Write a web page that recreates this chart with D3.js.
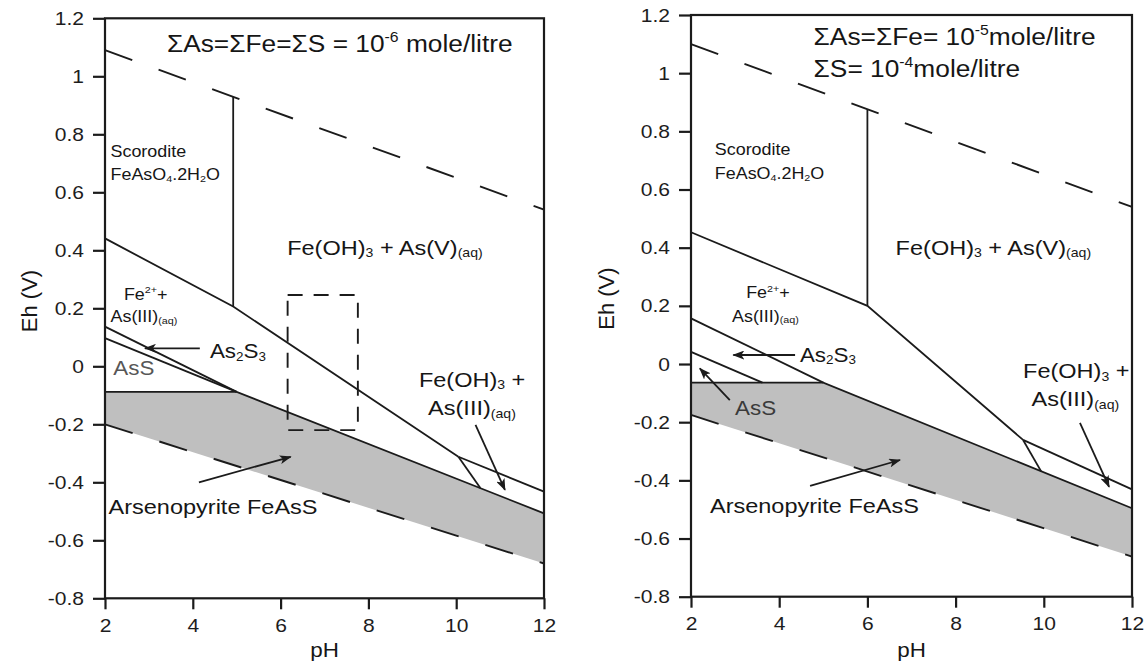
<!DOCTYPE html>
<html>
<head>
<meta charset="utf-8">
<script src="https://cdn.jsdelivr.net/npm/d3@7"></script>
<style>
  html, body { margin: 0; padding: 0; background: #fff; }
  svg text { font-family: "Liberation Sans", Arial, Helvetica, sans-serif; fill: #161616; white-space: pre; }
</style>
</head>
<body>
<svg id="chart" width="1148" height="661"></svg>
<script>
// ---------------- data ----------------
const pHTicks = [2, 4, 6, 8, 10, 12];
const pHTickLabels = ["2", "4", "6", "8", "10", "12"];
const ehTicks = [-0.8, -0.6, -0.4, -0.2, 0, 0.2, 0.4, 0.6, 0.8, 1, 1.2];
const ehTickLabels = ["-0.8", "-0.6", "-0.4", "-0.2", "0", "0.2", "0.4", "0.6", "0.8", "1", "1.2"];

// Diagram A: ΣAs = ΣFe = ΣS = 1e-6 mol/L   (points are [pH, Eh in V])
const aWaterUpper     = [[2, 1.09], [12, 0.54]];
const aWaterLower     = [[2, -0.20], [12, -0.68]];
const aArsenopyriteTop = [[2, -0.088], [5.0, -0.088], [12, -0.507]];
const aAs2S3Top       = [[2, 0.137], [5.0, -0.088]];
const aAsSTop         = [[2, 0.097], [5.0, -0.088]];
const aScoroditeBase  = [[2, 0.441], [4.92, 0.206], [10.05, -0.312]];
const aScoroditeEdge  = [[4.92, 0.206], [4.92, 0.929]];
const aFeOH3As3Top    = [[10.05, -0.312], [12, -0.432]];
const aFeOH3As3Left   = [[10.05, -0.312], [10.55, -0.420]];
const aStudyWindow    = [[6.16, 0.246], [7.76, -0.22]];

// Diagram B: ΣAs = ΣFe = 1e-5, ΣS = 1e-4 mol/L
const bWaterUpper     = [[2, 1.10], [12, 0.54]];
const bWaterLower     = [[2, -0.175], [12, -0.662]];
const bArsenopyriteTop = [[2, -0.064], [5.0, -0.064], [12, -0.496]];
const bAs2S3Top       = [[2, 0.157], [5.0, -0.064]];
const bAsSTop         = [[2, 0.042], [3.62, -0.064]];
const bScoroditeBase  = [[2, 0.453], [6.0, 0.200], [9.53, -0.261]];
const bScoroditeEdge  = [[6.0, 0.200], [6.0, 0.874]];
const bFeOH3As3Top    = [[9.53, -0.261], [12, -0.431]];
const bFeOH3As3Left   = [[9.53, -0.261], [9.94, -0.369]];

// ---------------- drawing ----------------
const svg = d3.select("#chart");
const INK = "#1b1b1b";
const STRETCH = 1.12;   // horizontal widening of lettering

svg.append("defs").append("marker")
  .attr("id", "arrowhead")
  .attr("markerUnits", "userSpaceOnUse")
  .attr("viewBox", "0 0 12 9")
  .attr("refX", 11).attr("refY", 4.5)
  .attr("markerWidth", 12).attr("markerHeight", 9)
  .attr("orient", "auto")
  .append("path").attr("d", "M0,0 L12,4.5 L0,9 L3,4.5 Z").attr("fill", INK);

// Writes markup like "Fe(OH)_{3} + As(V)_{(aq)}" or "10^{-6}" into a text node.
function richText(textSel, markup, size) {
  const parts = markup.split(/(_\{[^}]*\}|\^\{[^}]*\})/).filter(s => s.length);
  let shift = 0;
  parts.forEach(p => {
    let kind = "n", txt = p;
    if (p.startsWith("_{")) { kind = "sub"; txt = p.slice(2, -1); }
    else if (p.startsWith("^{")) { kind = "sup"; txt = p.slice(2, -1); }
    const target = kind === "sub" ? size * 0.12 : kind === "sup" ? -size * 0.42 : 0;
    textSel.append("tspan")
      .attr("dy", target - shift)
      .attr("font-size", kind === "n" ? size : size * 0.6)
      .text(txt);
    shift = target;
  });
}

function label(g, x, y, markup, size, color) {
  const t = g.append("text")
    .attr("transform", `translate(${x},${y}) scale(${STRETCH},1)`)
    .attr("font-size", size);
  if (color) t.style("fill", color);
  richText(t, markup, size);
  return t;
}

function drawDiagram(cfg) {
  const x = d3.scaleLinear().domain([2, 12]).range(cfg.xRange);
  const y = d3.scaleLinear().domain([-0.8, 1.2]).range(cfg.yRange);
  const line = d3.line().x(d => x(d[0])).y(d => y(d[1]));
  const g = svg.append("g");

  // arsenopyrite stability field
  const field = cfg.arsenopyriteTop.concat(cfg.waterLower.slice().reverse());
  g.append("path").attr("d", line(field) + "Z").attr("fill", "#bfbfbf").attr("stroke", "none");

  // phase boundaries
  const solid = [cfg.arsenopyriteTop, cfg.as2s3Top, cfg.assTop, cfg.scoroditeBase,
                 cfg.scoroditeEdge, cfg.feoh3Top, cfg.feoh3Left];
  solid.forEach(s => g.append("path").attr("d", line(s))
    .attr("fill", "none").attr("stroke", INK).attr("stroke-width", 1.8));

  // water stability limits
  [cfg.waterUpper, cfg.waterLower].forEach(s => g.append("path").attr("d", line(s))
    .attr("fill", "none").attr("stroke", INK).attr("stroke-width", 1.9)
    .attr("stroke-dasharray", "29,28"));

  if (cfg.window) {
    const [p0, p1] = cfg.window;
    g.append("rect")
      .attr("x", x(p0[0])).attr("y", y(p0[1]))
      .attr("width", x(p1[0]) - x(p0[0])).attr("height", y(p1[1]) - y(p0[1]))
      .attr("fill", "none").attr("stroke", INK).attr("stroke-width", 1.9)
      .attr("stroke-dasharray", "15,11");
  }

  // frame
  g.append("rect")
    .attr("x", cfg.xRange[0]).attr("y", cfg.yRange[1])
    .attr("width", cfg.xRange[1] - cfg.xRange[0]).attr("height", cfg.yRange[0] - cfg.yRange[1])
    .attr("fill", "none").attr("stroke", INK).attr("stroke-width", 2.2);

  // axes
  const yAxis = g.append("g").attr("transform", `translate(${cfg.xRange[0]},0)`)
    .call(d3.axisLeft(y).tickValues(ehTicks).tickFormat((d, i) => ehTickLabels[i])
      .tickSize(12).tickPadding(9).tickSizeOuter(0));
  const xAxis = g.append("g").attr("transform", `translate(0,${cfg.yRange[0]})`)
    .call(d3.axisBottom(x).tickValues(pHTicks).tickFormat((d, i) => pHTickLabels[i])
      .tickSize(11).tickPadding(9).tickSizeOuter(0));
  [yAxis, xAxis].forEach(ax => {
    ax.select(".domain").remove();
    ax.selectAll(".tick line").attr("stroke", INK).attr("stroke-width", 2.2);
    ax.selectAll(".tick text").attr("font-size", 18.8).style("fill", "#1d1d1d")
      .attr("font-family", "Liberation Sans, Arial, sans-serif")
      .each(function () {
        const t = d3.select(this);
        t.attr("x", (+t.attr("x") || 0) / STRETCH).attr("transform", `scale(${STRETCH},1)`);
      });
  });

  // axis titles
  label(g, (cfg.xRange[0] + cfg.xRange[1]) / 2, 657, "pH", 20).attr("text-anchor", "middle");
  g.append("text")
    .attr("transform", `translate(${cfg.xRange[0] - cfg.ehTitleGap},${y(0.225)}) rotate(-90)`)
    .attr("text-anchor", "middle").attr("font-size", 22).text("Eh (V)");

  // field names
  cfg.labels.forEach(l => label(g, x(l.at[0]), y(l.at[1]), l.text, l.size, l.color));

  // pointers
  cfg.arrows.forEach(a => g.append("line")
    .attr("x1", x(a[0][0])).attr("y1", y(a[0][1]))
    .attr("x2", x(a[1][0])).attr("y2", y(a[1][1]))
    .attr("stroke", INK).attr("stroke-width", 1.8)
    .attr("marker-end", "url(#arrowhead)"));
}

drawDiagram({
  xRange: [105, 544], yRange: [598.3, 18.3], ehTitleGap: 68,
  waterUpper: aWaterUpper, waterLower: aWaterLower,
  arsenopyriteTop: aArsenopyriteTop, as2s3Top: aAs2S3Top, assTop: aAsSTop,
  scoroditeBase: aScoroditeBase, scoroditeEdge: aScoroditeEdge,
  feoh3Top: aFeOH3As3Top, feoh3Left: aFeOH3As3Left, window: aStudyWindow,
  labels: [
    { at: [3.41, 1.085], text: "ΣAs=ΣFe=ΣS = 10^{-6} mole/litre", size: 23.5 },
    { at: [2.125, 0.723], text: "Scorodite", size: 16 },
    { at: [2.125, 0.642], text: "FeAsO_{4}.2H_{2}O", size: 16 },
    { at: [6.15, 0.384], text: "Fe(OH)_{3} + As(V)_{(aq)}", size: 21 },
    { at: [2.43, 0.229], text: "Fe^{2+}+", size: 16 },
    { at: [2.125, 0.154], text: "As(III)_{(aq)}", size: 16 },
    { at: [4.39, 0.028], text: "As_{2}S_{3}", size: 20 },
    { at: [2.19, -0.03], text: "AsS", size: 20, color: "#575757" },
    { at: [2.08, -0.51], text: "Arsenopyrite FeAsS", size: 21 },
    { at: [9.15, -0.07], text: "Fe(OH)_{3} +", size: 21 },
    { at: [9.36, -0.168], text: "As(III)_{(aq)}", size: 21 }
  ],
  arrows: [
    [[4.16, 0.062], [2.91, 0.062]],
    [[4.14, -0.40], [6.23, -0.312]],
    [[10.44, -0.202], [11.11, -0.426]]
  ]
});

drawDiagram({
  xRange: [691, 1132], yRange: [596.7, 15], ehTitleGap: 77,
  waterUpper: bWaterUpper, waterLower: bWaterLower,
  arsenopyriteTop: bArsenopyriteTop, as2s3Top: bAs2S3Top, assTop: bAsSTop,
  scoroditeBase: bScoroditeBase, scoroditeEdge: bScoroditeEdge,
  feoh3Top: bFeOH3As3Top, feoh3Left: bFeOH3As3Left, window: null,
  labels: [
    { at: [4.78, 1.097], text: "ΣAs=ΣFe= 10^{-5}mole/litre", size: 23.5 },
    { at: [4.78, 0.988], text: "ΣS= 10^{-4}mole/litre", size: 23.5 },
    { at: [2.54, 0.718], text: "Scorodite", size: 16 },
    { at: [2.54, 0.635], text: "FeAsO_{4}.2H_{2}O", size: 16 },
    { at: [6.64, 0.375], text: "Fe(OH)_{3} + As(V)_{(aq)}", size: 21 },
    { at: [3.25, 0.226], text: "Fe^{2+}+", size: 16 },
    { at: [2.93, 0.146], text: "As(III)_{(aq)}", size: 16 },
    { at: [4.47, 0.008], text: "As_{2}S_{3}", size: 20 },
    { at: [3.0, -0.175], text: "AsS", size: 20, color: "#3a3a3a" },
    { at: [2.43, -0.513], text: "Arsenopyrite FeAsS", size: 21 },
    { at: [9.53, -0.049], text: "Fe(OH)_{3} +", size: 21 },
    { at: [9.72, -0.146], text: "As(III)_{(aq)}", size: 21 }
  ],
  arrows: [
    [[4.36, 0.031], [2.96, 0.031]],
    [[2.88, -0.124], [2.20, -0.015]],
    [[4.70, -0.419], [6.74, -0.33]],
    [[10.82, -0.202], [11.48, -0.422]]
  ]
});
</script>
</body>
</html>
